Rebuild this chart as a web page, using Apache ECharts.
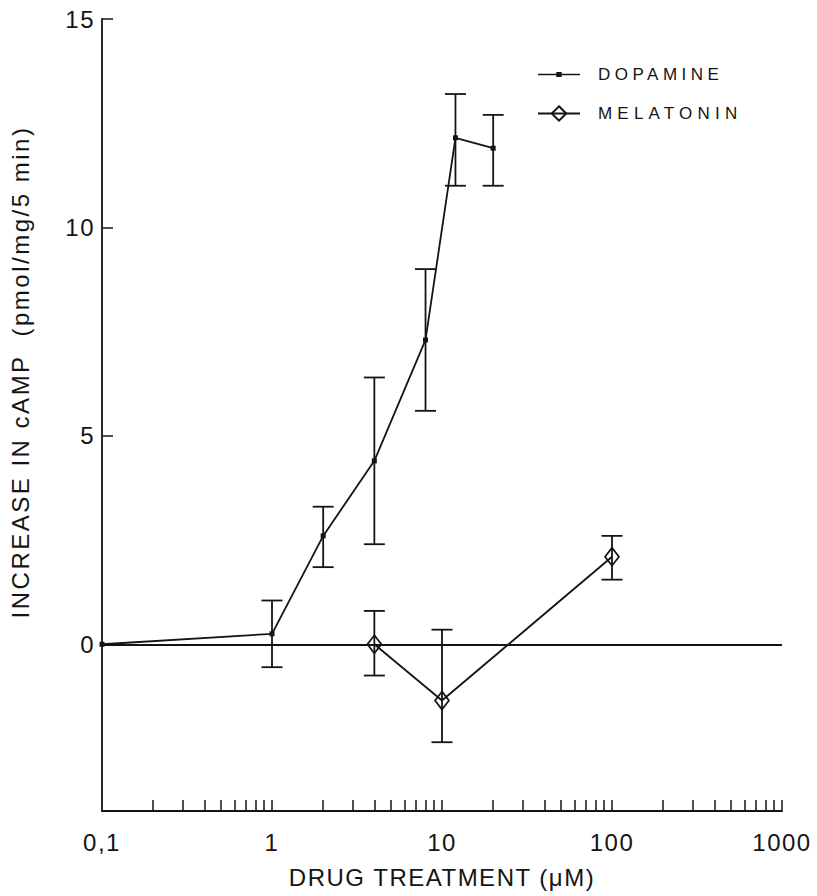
<!DOCTYPE html>
<html><head><meta charset="utf-8">
<script src="https://cdn.jsdelivr.net/npm/echarts@6/dist/echarts.min.js"></script>
<style>html,body{margin:0;padding:0;background:#fff}#c{width:817px;height:896px}</style>
</head><body><div id="c"></div>
<script>
// ---- data ----
const xTickValues = [0.1, 1, 10, 100, 1000];
const xTickLabels = ['0,1', '1', '10', '100', '1000'];
const yTickValues = [0, 5, 10, 15];

const dopamineX    = [0.1, 1,     2,    4,   8,   12,    20];
const dopamineY    = [0,   0.25,  2.6,  4.4, 7.3, 12.15, 11.9];
const dopamineLow  = [null, -0.55, 1.85, 2.4, 5.6, 11.0, 11.0];
const dopamineHigh = [null, 1.05,  3.3,  6.4, 9.0, 13.2, 12.7];

const melatoninX    = [4,     10,    100];
const melatoninY    = [0,     -1.35, 2.1];
const melatoninLow  = [-0.75, -2.35, 1.55];
const melatoninHigh = [0.8,   0.35,  2.6];

// minor log ticks (2..10 within each decade)
const xMinorTicks = [];
for (let d = 0.1; d < 1000; d *= 10) {
  for (let m = 2; m <= 10; m++) xMinorTicks.push(+(d * m).toPrecision(3));
}

const INK = '#141414';
const FONT = "'Liberation Sans', Arial, Helvetica, sans-serif";

function pairs(xs, ys) { return xs.map((x, i) => [x, ys[i]]); }
function errData(xs, lo, hi) {
  const out = [];
  xs.forEach((x, i) => { if (lo[i] != null) out.push([x, lo[i], hi[i]]); });
  return out;
}
function errRender(params, api) {
  const x = api.value(0), lo = api.value(1), hi = api.value(2);
  const a = api.coord([x, hi]), b = api.coord([x, lo]);
  const w = 10.5;
  const st = { stroke: INK, lineWidth: 1.8 };
  return { type: 'group', children: [
    { type: 'line', shape: { x1: a[0], y1: a[1], x2: b[0], y2: b[1] }, style: st },
    { type: 'line', shape: { x1: a[0] - w, y1: a[1], x2: a[0] + w, y2: a[1] }, style: st },
    { type: 'line', shape: { x1: b[0] - w, y1: b[1], x2: b[0] + w, y2: b[1] }, style: st }
  ]};
}

const chart = echarts.init(document.getElementById('c'), null, { renderer: 'svg' });
chart.setOption({
  animation: false,
  backgroundColor: '#fff',
  textStyle: { fontFamily: FONT, color: INK },
  grid: { left: 100, right: 35, top: 19, bottom: 85, containLabel: false },
  legend: {
    orient: 'vertical', left: 532, top: 61, itemGap: 22,
    itemWidth: 42, itemHeight: 18,
    textStyle: { fontSize: 17, color: INK, fontFamily: FONT, padding: [0, 0, 0, 13] },
    data: [
      { name: 'DOPAMINE', icon: 'path://M0,8.2H42V9.8H0Z M18.3,6.5H23.7V11.5H18.3Z' },
      { name: 'MELATONIN' }
    ]
  },
  xAxis: {
    type: 'log', logBase: 10, min: 0.1, max: 1000,
    name: 'DRUG TREATMENT (\u03bcM)', nameLocation: 'middle', nameGap: 54,
    nameTextStyle: { fontSize: 24, color: INK, fontFamily: FONT },
    axisLine: { onZero: false, lineStyle: { color: INK, width: 1.8 } },
    axisTick: { inside: true, length: 11, customValues: xMinorTicks, lineStyle: { color: INK, width: 1.5 } },
    minorTick: { show: false },
    axisLabel: {
      customValues: xTickValues, margin: 19, fontSize: 24, color: INK, fontFamily: FONT,
      formatter: v => { const i = xTickValues.findIndex(t => Math.abs(Math.log10(t) - Math.log10(v)) < 1e-6); return i >= 0 ? xTickLabels[i] : ''; }
    },
    splitLine: { show: false }
  },
  yAxis: {
    type: 'value', min: -4, max: 15,
    name: 'INCREASE IN cAMP  (pmol/mg/5 min)', nameLocation: 'middle', nameGap: 70,
    nameTextStyle: { fontSize: 24, color: INK, fontFamily: FONT, padding: [0, 0, 0, 86] },
    axisLine: { show: true, onZero: false, lineStyle: { color: INK, width: 1.8 } },
    axisTick: { show: true, inside: true, length: 11, customValues: yTickValues, lineStyle: { color: INK, width: 1.5 } },
    axisLabel: { customValues: yTickValues, margin: 7, fontSize: 24, color: INK, fontFamily: FONT },
    splitLine: { show: false }
  },
  series: [
    {
      name: 'DOPAMINE', type: 'line', data: pairs(dopamineX, dopamineY),
      symbol: 'rect', symbolSize: 5, showSymbol: true,
      lineStyle: { color: INK, width: 1.8 },
      itemStyle: { color: INK, borderColor: INK, borderWidth: 0 },
      z: 3,
      markLine: {
        silent: true, symbol: 'none', label: { show: false },
        lineStyle: { color: INK, width: 1.8, type: 'solid' },
        data: [{ yAxis: 0 }]
      }
    },
    {
      name: 'MELATONIN', type: 'line', data: pairs(melatoninX, melatoninY),
      symbol: 'diamond', symbolSize: [14, 18], showSymbol: true,
      lineStyle: { color: INK, width: 1.8 },
      itemStyle: { color: 'rgba(255,255,255,0)', borderColor: INK, borderWidth: 1.7 },
      z: 4
    },
    { type: 'custom', renderItem: errRender, data: errData(dopamineX, dopamineLow, dopamineHigh), z: 2, silent: true },
    { type: 'custom', renderItem: errRender, data: errData(melatoninX, melatoninLow, melatoninHigh), z: 2, silent: true }
  ]
});

function spaceTexts() {
  const sp = { 'DOPAMINE': '4.5px', 'MELATONIN': '5.2px', 'DRUG TREATMENT (\u03bcM)': '1.5px', 'INCREASE IN cAMP  (pmol/mg/5 min)': '2.5px' };
  document.querySelectorAll('#c text').forEach(t => {
    const s = t.textContent.trim();
    if (sp[s]) t.style.letterSpacing = sp[s];
    else if (/^[0-9,]+$/.test(s)) t.style.letterSpacing = '1.5px';
  });
}
spaceTexts();
chart.on('finished', spaceTexts);
</script>
</body></html>
